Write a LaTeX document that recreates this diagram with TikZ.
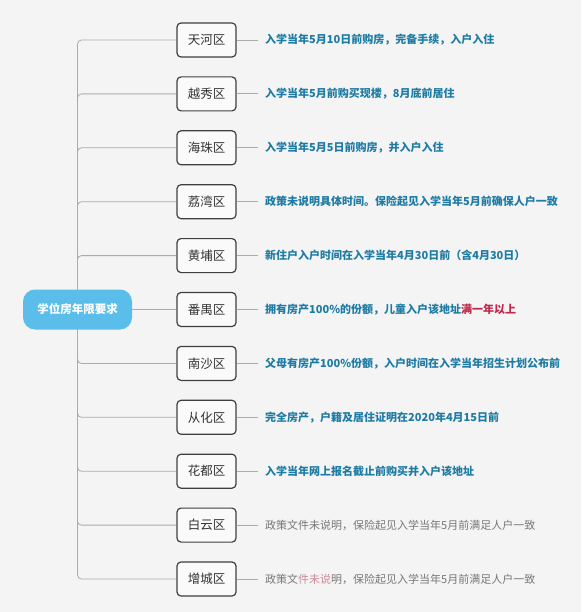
\documentclass[tikz,border=0pt]{standalone}
\usepackage{fontspec}
\setmainfont{Noto Sans CJK SC}
\pgfdeclarelayer{back}
\pgfdeclarelayer{links}
\pgfsetlayers{back,links,main}
\definecolor{bgcol}{HTML}{F4F4F4}
\definecolor{desccol}{HTML}{1E7BA4}
\definecolor{greycol}{HTML}{777777}
\definecolor{redcol}{HTML}{C0264A}
\definecolor{pinkcol}{HTML}{C98A98}
\definecolor{linecol}{HTML}{ABABAB}
\definecolor{boxline}{HTML}{3F3F3F}
\definecolor{boxtext}{HTML}{333333}
\definecolor{rootcol}{HTML}{5BBDEA}
\begin{document}
\begin{tikzpicture}[x=1pt,y=-1pt,
  rootnode/.style={fill=rootcol, rounded corners=12pt, minimum width=109pt, minimum height=40pt, inner sep=0pt, text=white, font=\fontsize{11.5}{13}\selectfont\bfseries},
  district/.style={draw=boxline, line width=1.2pt, rounded corners=4pt, fill=white!55!bgcol, minimum width=59pt, minimum height=34pt, inner sep=0pt, text=boxtext, font=\fontsize{12.5}{14}\selectfont},
  desc/.style={anchor=west, inner xsep=7pt, inner ysep=0pt, text=desccol, font=\fontsize{11}{13}\selectfont\bfseries},
  greydesc/.style={desc, text=greycol, font=\fontsize{11}{13}\selectfont},
  link/.style={draw=linecol, line width=0.8pt}
]
\begin{pgfonlayer}{back}
\fill[bgcol] (0,0) rectangle (581,612);
\end{pgfonlayer}
\useasboundingbox (0,0) rectangle (581,612);

\node[rootnode] (root) at (77.5,309.5) {学位房年限要求};

\node[district] (tianhe)    at (206.5,40)    {天河区};
\node[district] (yuexiu)    at (206.5,93.9)  {越秀区};
\node[district] (haizhu)    at (206.5,147.8) {海珠区};
\node[district] (liwan)     at (206.5,201.7) {荔湾区};
\node[district] (huangpu)   at (206.5,255.6) {黄埔区};
\node[district] (panyu)     at (206.5,309.5) {番禺区};
\node[district] (nansha)    at (206.5,363.4) {南沙区};
\node[district] (conghua)   at (206.5,417.3) {从化区};
\node[district] (huadu)     at (206.5,471.2) {花都区};
\node[district] (baiyun)    at (206.5,525.1) {白云区};
\node[district] (zengcheng) at (206.5,579)   {增城区};

\node[desc] (tianheT)    at (258,40)    {入学当年5月10日前购房，完备手续，入户入住};
\node[desc] (yuexiuT)    at (258,93.9)  {入学当年5月前购买现楼，8月底前居住};
\node[desc] (haizhuT)    at (258,147.8) {入学当年5月5日前购房，并入户入住};
\node[desc] (liwanT)     at (258,201.7) {政策未说明具体时间。保险起见入学当年5月前确保人户一致};
\node[desc] (huangpuT)   at (258,255.6) {新住户入户时间在入学当年4月30日前（含4月30日）};
\node[desc] (panyuT)     at (258,309.5) {拥有房产100\%的份额，儿童入户该地址\textcolor{redcol}{满一年以上}};
\node[desc] (nanshaT)    at (258,363.4) {父母有房产100\%份额，入户时间在入学当年招生计划公布前};
\node[desc] (conghuaT)   at (258,417.3) {完全房产，户籍及居住证明在2020年4月15日前};
\node[desc] (huaduT)     at (258,471.2) {入学当年网上报名截止前购买并入户该地址};
\node[greydesc] (baiyunT)    at (258,525.1) {政策文件未说明，保险起见入学当年5月前满足人户一致};
\node[greydesc] (zengchengT) at (258,579)   {政策文\textcolor{pinkcol}{件未说}明，保险起见入学当年5月前满足人户一致};

\begin{pgfonlayer}{links}
\foreach \d in {tianhe,yuexiu,haizhu,liwan,huangpu,panyu,nansha,conghua,huadu,baiyun,zengcheng}{
  \draw[link, rounded corners=4pt] (root.center) |- (\d.west);
  \draw[link] (\d.east) -- (\d T.west);
}
\end{pgfonlayer}
\end{tikzpicture}
\end{document}
